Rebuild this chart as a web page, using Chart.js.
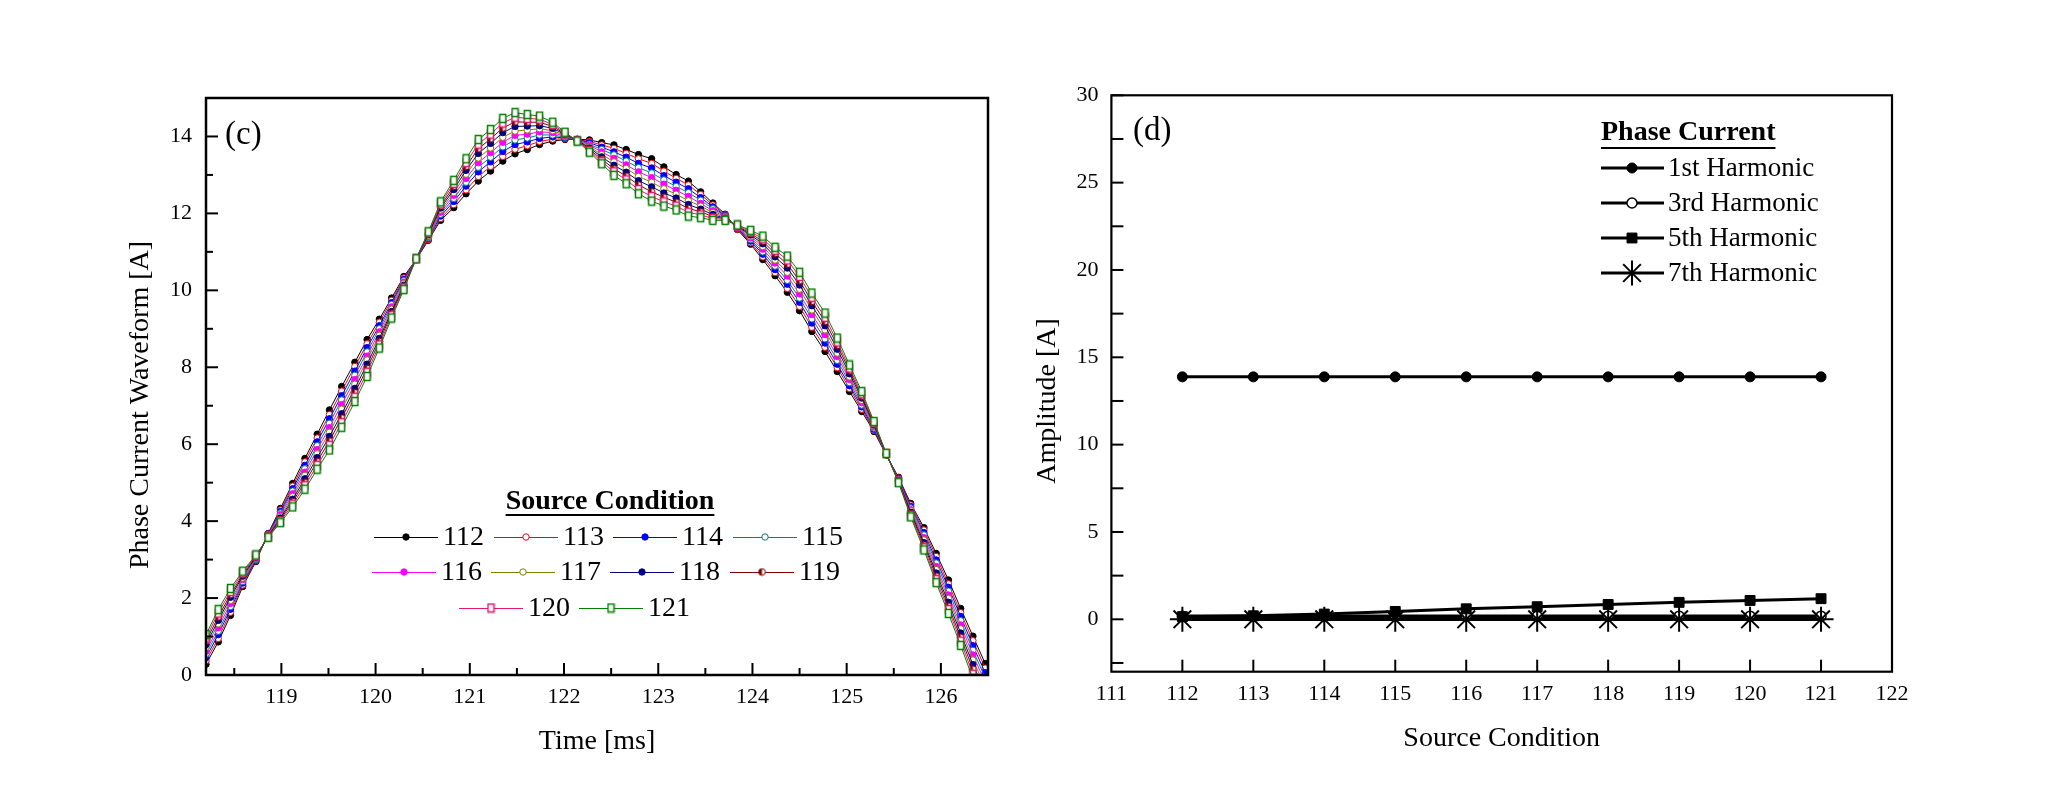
<!DOCTYPE html>
<html>
<head>
<meta charset="utf-8">
<script src="https://cdn.jsdelivr.net/npm/chart.js"></script>
<style>
  html, body { margin: 0; padding: 0; background: #fff; }
  #wrap { position: relative; width: 2053px; height: 810px; overflow: hidden; }
  canvas { position: absolute; top: 0; }
  #waveChart { left: 0; }
  #harmChart { left: 1030px; }
</style>
</head>
<body>
<div id="wrap">
  <canvas id="waveChart" width="1030" height="810"></canvas>
  <canvas id="harmChart" width="1023" height="810"></canvas>
</div>
<script>
// ---- (c) phase current waveform, one curve per source condition ----
const times = [118.20, 118.33, 118.46, 118.59, 118.73, 118.86, 118.99, 119.12, 119.25, 119.38,
  119.51, 119.64, 119.78, 119.91, 120.04, 120.17, 120.30, 120.43, 120.56, 120.69,
  120.83, 120.96, 121.09, 121.22, 121.35, 121.48, 121.61, 121.74, 121.88, 122.01,
  122.14, 122.27, 122.40, 122.53, 122.66, 122.79, 122.93, 123.06, 123.19, 123.32,
  123.45, 123.58, 123.71, 123.84, 123.98, 124.11, 124.24, 124.37, 124.50, 124.63,
  124.77, 124.90, 125.03, 125.16, 125.29, 125.42, 125.55, 125.68, 125.82, 125.95,
  126.08, 126.21, 126.34, 126.47];

const s112 = [0.28, 0.86, 1.55, 2.30, 2.95, 3.68, 4.33, 4.98, 5.63, 6.26,
  6.89, 7.50, 8.13, 8.72, 9.25, 9.80, 10.36, 10.80, 11.30, 11.82,
  12.15, 12.51, 12.84, 13.10, 13.36, 13.55, 13.66, 13.79, 13.88, 13.92,
  13.93, 13.91, 13.84, 13.78, 13.66, 13.53, 13.42, 13.21, 13.01, 12.84,
  12.56, 12.27, 11.98, 11.58, 11.20, 10.80, 10.38, 9.95, 9.47, 8.93,
  8.41, 7.89, 7.37, 6.85, 6.33, 5.72, 5.14, 4.46, 3.83, 3.16,
  2.47, 1.73, 1.01, 0.30];
const s113 = [0.37, 0.95, 1.63, 2.34, 2.97, 3.67, 4.29, 4.91, 5.54, 6.16,
  6.77, 7.38, 8.02, 8.61, 9.17, 9.74, 10.32, 10.80, 11.32, 11.87,
  12.23, 12.61, 12.96, 13.22, 13.48, 13.67, 13.76, 13.87, 13.93, 13.94,
  13.92, 13.87, 13.78, 13.69, 13.56, 13.42, 13.30, 13.10, 12.91, 12.74,
  12.49, 12.22, 11.96, 11.59, 11.24, 10.87, 10.46, 10.05, 9.58, 9.04,
  8.52, 7.99, 7.45, 6.91, 6.36, 5.72, 5.12, 4.42, 3.77, 3.08,
  2.37, 1.62, 0.89, 0.18];
const s114 = [0.45, 1.05, 1.71, 2.39, 2.99, 3.66, 4.25, 4.84, 5.45, 6.06,
  6.66, 7.26, 7.90, 8.51, 9.08, 9.68, 10.28, 10.80, 11.35, 11.93,
  12.31, 12.71, 13.08, 13.34, 13.61, 13.79, 13.86, 13.95, 13.99, 13.96,
  13.92, 13.84, 13.72, 13.60, 13.46, 13.30, 13.18, 12.98, 12.81, 12.64,
  12.41, 12.17, 11.94, 11.61, 11.28, 10.94, 10.54, 10.16, 9.69, 9.15,
  8.63, 8.08, 7.52, 6.97, 6.39, 5.73, 5.11, 4.38, 3.70, 2.99,
  2.28, 1.52, 0.76, 0.06];
const s115 = [0.54, 1.14, 1.78, 2.43, 3.01, 3.65, 4.21, 4.78, 5.36, 5.96,
  6.54, 7.15, 7.79, 8.40, 9.00, 9.63, 10.25, 10.81, 11.37, 11.98,
  12.39, 12.81, 13.20, 13.46, 13.73, 13.91, 13.96, 14.04, 14.04, 13.98,
  13.91, 13.80, 13.66, 13.52, 13.36, 13.19, 13.05, 12.87, 12.70, 12.54,
  12.34, 12.12, 11.93, 11.62, 11.32, 11.00, 10.63, 10.26, 9.80, 9.26,
  8.74, 8.18, 7.60, 7.02, 6.42, 5.73, 5.09, 4.34, 3.64, 2.91,
  2.18, 1.41, 0.64, -0.07];
const s116 = [0.62, 1.23, 1.86, 2.48, 3.03, 3.64, 4.17, 4.71, 5.27, 5.86,
  6.43, 7.03, 7.68, 8.29, 8.92, 9.57, 10.21, 10.81, 11.40, 12.03,
  12.47, 12.91, 13.32, 13.58, 13.85, 14.03, 14.06, 14.12, 14.10, 14.00,
  13.91, 13.77, 13.60, 13.43, 13.26, 13.08, 12.93, 12.76, 12.60, 12.44,
  12.26, 12.07, 11.91, 11.63, 11.36, 11.07, 10.71, 10.37, 9.91, 9.37,
  8.85, 8.28, 7.68, 7.08, 6.45, 5.74, 5.08, 4.30, 3.57, 2.82,
  2.08, 1.30, 0.52, -0.19];
const s117 = [0.71, 1.33, 1.94, 2.52, 3.04, 3.62, 4.12, 4.64, 5.19, 5.75,
  6.31, 6.91, 7.56, 8.19, 8.83, 9.51, 10.17, 10.81, 11.42, 12.09,
  12.54, 13.02, 13.44, 13.70, 13.98, 14.14, 14.17, 14.20, 14.15, 14.03,
  13.90, 13.73, 13.53, 13.34, 13.17, 12.96, 12.81, 12.64, 12.50, 12.33,
  12.19, 12.02, 11.89, 11.65, 11.40, 11.14, 10.79, 10.47, 10.03, 9.49,
  8.97, 8.37, 7.75, 7.14, 6.47, 5.74, 5.06, 4.27, 3.51, 2.74,
  1.99, 1.20, 0.39, -0.31];
const s118 = [0.79, 1.42, 2.02, 2.57, 3.06, 3.61, 4.08, 4.57, 5.10, 5.65,
  6.20, 6.79, 7.45, 8.08, 8.75, 9.45, 10.13, 10.81, 11.45, 12.14,
  12.62, 13.12, 13.56, 13.82, 14.10, 14.26, 14.27, 14.28, 14.21, 14.05,
  13.90, 13.70, 13.47, 13.25, 13.07, 12.85, 12.69, 12.53, 12.40, 12.23,
  12.11, 11.97, 11.87, 11.66, 11.44, 11.21, 10.87, 10.58, 10.14, 9.60,
  9.08, 8.47, 7.83, 7.20, 6.50, 5.75, 5.05, 4.23, 3.44, 2.65,
  1.89, 1.09, 0.27, -0.43];
const s119 = [0.88, 1.51, 2.09, 2.61, 3.08, 3.60, 4.04, 4.51, 5.01, 5.55,
  6.08, 6.68, 7.34, 7.97, 8.67, 9.40, 10.10, 10.82, 11.47, 12.19,
  12.70, 13.22, 13.68, 13.94, 14.22, 14.38, 14.37, 14.37, 14.26, 14.07,
  13.89, 13.66, 13.41, 13.16, 12.97, 12.74, 12.56, 12.42, 12.29, 12.13,
  12.04, 11.92, 11.86, 11.67, 11.48, 11.27, 10.96, 10.68, 10.25, 9.71,
  9.19, 8.57, 7.91, 7.25, 6.53, 5.75, 5.03, 4.19, 3.38, 2.57,
  1.79, 0.98, 0.15, -0.56];
const s120 = [0.96, 1.61, 2.17, 2.66, 3.10, 3.59, 4.00, 4.44, 4.92, 5.45,
  5.97, 6.56, 7.22, 7.87, 8.58, 9.34, 10.06, 10.82, 11.50, 12.25,
  12.78, 13.32, 13.80, 14.06, 14.35, 14.50, 14.47, 14.45, 14.31, 14.09,
  13.89, 13.63, 13.35, 13.08, 12.87, 12.62, 12.44, 12.30, 12.19, 12.03,
  11.96, 11.87, 11.84, 11.69, 11.52, 11.34, 11.04, 10.79, 10.36, 9.82,
  9.30, 8.66, 7.98, 7.31, 6.56, 5.76, 5.02, 4.15, 3.31, 2.48,
  1.70, 0.88, 0.02, -0.68];
const s121 = [1.05, 1.70, 2.25, 2.70, 3.12, 3.58, 3.96, 4.37, 4.83, 5.35,
  5.85, 6.44, 7.11, 7.76, 8.50, 9.28, 10.02, 10.82, 11.52, 12.30,
  12.86, 13.42, 13.92, 14.18, 14.47, 14.62, 14.57, 14.53, 14.37, 14.11,
  13.88, 13.59, 13.29, 12.99, 12.77, 12.51, 12.32, 12.19, 12.09, 11.93,
  11.89, 11.82, 11.82, 11.70, 11.56, 11.41, 11.12, 10.89, 10.47, 9.93,
  9.41, 8.76, 8.06, 7.37, 6.59, 5.76, 5.00, 4.11, 3.25, 2.40,
  1.60, 0.77, -0.10, -0.80];

const sourceLabels = ['112', '113', '114', '115', '116', '117', '118', '119', '120', '121'];
const waveValues = [s112, s113, s114, s115, s116, s117, s118, s119, s120, s121];
const waveXTicks = [119, 120, 121, 122, 123, 124, 125, 126];
const waveXMinor = [118.5, 119.5, 120.5, 121.5, 122.5, 123.5, 124.5, 125.5, 126.5];
const waveYTicks = [0, 2, 4, 6, 8, 10, 12, 14];
const waveYMinor = [1, 3, 5, 7, 9, 11, 13, 15];

// ---- (d) harmonic amplitudes vs source condition ----
const conditions = [112, 113, 114, 115, 116, 117, 118, 119, 120, 121];
const harmonicLabels = ['1st Harmonic', '3rd Harmonic', '5th Harmonic', '7th Harmonic'];
const h1 = [13.88, 13.88, 13.88, 13.88, 13.88, 13.88, 13.88, 13.88, 13.88, 13.88];
const h3 = [0.18, 0.18, 0.18, 0.18, 0.18, 0.18, 0.18, 0.18, 0.18, 0.18];
const h5 = [0.15, 0.20, 0.30, 0.45, 0.60, 0.72, 0.85, 0.97, 1.08, 1.18];
const h7 = [0.00, 0.00, 0.00, 0.00, 0.00, 0.00, 0.00, 0.00, 0.00, 0.00];
const harmXTicks = [111, 112, 113, 114, 115, 116, 117, 118, 119, 120, 121, 122];
const harmYTicks = [0, 5, 10, 15, 20, 25, 30];
const harmYMinor = [-2.5, 2.5, 7.5, 12.5, 17.5, 22.5, 27.5];

const SERIF = "'Liberation Serif', 'Times New Roman', serif";
Chart.defaults.font.family = SERIF;
Chart.defaults.color = '#000';

// small custom markers
function halfDot(color) {
  const c = document.createElement('canvas');
  c.width = 9; c.height = 9;
  const g = c.getContext('2d');
  g.beginPath(); g.arc(4.5, 4.5, 3.3, 0, Math.PI * 2); g.fillStyle = '#fff'; g.fill();
  g.beginPath(); g.moveTo(4.5, 4.5); g.arc(4.5, 4.5, 3.3, -Math.PI / 2, Math.PI / 2, true); g.closePath();
  g.fillStyle = color; g.fill();
  g.beginPath(); g.arc(4.5, 4.5, 3.3, 0, Math.PI * 2); g.strokeStyle = color; g.lineWidth = 1; g.stroke();
  return c;
}
function openBar(color) {
  const c = document.createElement('canvas');
  c.width = 9; c.height = 11;
  const g = c.getContext('2d');
  g.fillStyle = '#fff'; g.fillRect(1.5, 1.5, 6, 8);
  g.strokeStyle = color; g.lineWidth = 1.5; g.strokeRect(1.5, 1.5, 6, 8);
  return c;
}

const waveStyles = [
  { color: '#000000', fill: true },
  { color: '#ff0000', fill: false },
  { color: '#0000ff', fill: true },
  { color: '#008080', fill: false },
  { color: '#ff00ff', fill: true },
  { color: '#808000', fill: false },
  { color: '#000080', fill: true },
  { color: '#800000', img: halfDot('#800000') },
  { color: '#e0186e', img: openBar('#e0186e') },
  { color: '#008000', img: openBar('#008000') }
];

function drawMarker(ctx, ds, x, y) {
  const st = ds.pointStyle;
  if (st instanceof HTMLCanvasElement) {
    ctx.drawImage(st, x - st.width / 2, y - st.height / 2);
    return;
  }
  const r = ds.pointRadius;
  ctx.save();
  ctx.fillStyle = ds.pointBackgroundColor;
  ctx.strokeStyle = ds.pointBorderColor;
  ctx.lineWidth = ds.pointBorderWidth;
  ctx.beginPath();
  if (st === 'rect') {
    const s = r * Math.SQRT1_2;
    ctx.rect(x - s, y - s, 2 * s, 2 * s);
    ctx.fill(); ctx.stroke();
  } else if (st === 'star') {
    for (let a = 0; a < 4; a++) {
      const ang = a * Math.PI / 4;
      ctx.moveTo(x - Math.cos(ang) * r, y - Math.sin(ang) * r);
      ctx.lineTo(x + Math.cos(ang) * r, y + Math.sin(ang) * r);
    }
    ctx.stroke();
  } else {
    ctx.arc(x, y, r, 0, Math.PI * 2);
    ctx.fill(); ctx.stroke();
  }
  ctx.restore();
}

// box frame, inward ticks, rotated y title and panel letter
const framePlugin = {
  id: 'frame',
  afterDatasetsDraw(chart, args, o) {
    const { ctx, chartArea: a, scales } = chart;
    const xs = scales.x, ys = scales.y;
    ctx.save();
    ctx.strokeStyle = '#000';
    ctx.lineWidth = o.tickWidth;
    const tickX = (vals, len) => vals.forEach(v => {
      const p = xs.getPixelForValue(v);
      ctx.beginPath(); ctx.moveTo(p, a.bottom); ctx.lineTo(p, a.bottom - len); ctx.stroke();
    });
    const tickY = (vals, len) => vals.forEach(v => {
      const p = ys.getPixelForValue(v);
      ctx.beginPath(); ctx.moveTo(a.left, p); ctx.lineTo(a.left + len, p); ctx.stroke();
    });
    tickX(o.xMajor, o.majorLen); tickX(o.xMinor, o.minorLen);
    tickY(o.yMajor, o.majorLen); tickY(o.yMinor, o.minorLen);
    ctx.lineWidth = o.lineWidth;
    ctx.strokeRect(a.left, a.top, a.right - a.left, a.bottom - a.top);

    ctx.fillStyle = '#000';
    ctx.font = '28px ' + SERIF;
    ctx.textAlign = 'center';
    ctx.textBaseline = 'middle';
    ctx.translate(o.yTitle.x, o.yTitle.y);
    ctx.rotate(-Math.PI / 2);
    ctx.fillText(o.yTitle.text, 0, 0);
    ctx.setTransform(1, 0, 0, 1, 0, 0);
    ctx.font = '33px ' + SERIF;
    ctx.textAlign = 'left';
    ctx.fillText(o.panel.text, o.panel.x, o.panel.y);
    ctx.restore();
  }
};

const waveLegendSlots = [[374, 537], [494, 537], [613, 537], [733, 537],
  [372, 572], [491, 572], [610, 572], [730, 572], [459, 608], [579, 608]];

const waveLegend = {
  id: 'waveLegend',
  afterDraw(chart) {
    const ctx = chart.ctx;
    ctx.save();
    ctx.fillStyle = '#000';
    ctx.font = 'bold 28px ' + SERIF;
    ctx.textAlign = 'center';
    ctx.textBaseline = 'middle';
    ctx.fillText('Source Condition', 610, 502);
    const w = ctx.measureText('Source Condition').width;
    ctx.fillRect(610 - w / 2, 514, w, 2);
    ctx.font = '28px ' + SERIF;
    ctx.textAlign = 'left';
    chart.data.datasets.forEach((ds, i) => {
      const [x, y] = waveLegendSlots[i];
      ctx.strokeStyle = ds.borderColor;
      ctx.lineWidth = 1;
      ctx.beginPath(); ctx.moveTo(x, y + 0.5); ctx.lineTo(x + 64, y + 0.5); ctx.stroke();
      drawMarker(ctx, ds, x + 32, y);
      ctx.fillStyle = '#000';
      ctx.fillText(ds.label, x + 69, y + 1);
    });
    ctx.restore();
  }
};

const harmLegend = {
  id: 'harmLegend',
  afterDraw(chart) {
    const ctx = chart.ctx;
    const x0 = 571, rows = [168, 203, 238, 273];
    ctx.save();
    ctx.fillStyle = '#000';
    ctx.font = 'bold 28px ' + SERIF;
    ctx.textAlign = 'left';
    ctx.textBaseline = 'middle';
    ctx.fillText('Phase Current', x0, 133);
    const w = ctx.measureText('Phase Current').width;
    ctx.fillRect(x0, 147, w, 2);
    ctx.font = '27px ' + SERIF;
    chart.data.datasets.forEach((ds, i) => {
      const y = rows[i];
      ctx.strokeStyle = '#000';
      ctx.lineWidth = 3;
      ctx.beginPath(); ctx.moveTo(x0, y); ctx.lineTo(x0 + 63, y); ctx.stroke();
      drawMarker(ctx, ds, x0 + 31, y);
      ctx.fillStyle = '#000';
      ctx.fillText(ds.label, x0 + 67, y + 1);
    });
    ctx.restore();
  }
};

function fixedTicks(list) {
  return scale => { scale.ticks = list.map(v => ({ value: v })); };
}

// ---- chart (c) ----
new Chart(document.getElementById('waveChart'), {
  type: 'line',
  data: {
    datasets: waveValues.map((vals, i) => {
      const st = waveStyles[i];
      return {
        label: sourceLabels[i],
        data: times.map((t, k) => ({ x: t, y: vals[k] })),
        borderColor: st.color,
        borderWidth: 1,
        tension: 0,
        pointStyle: st.img || 'circle',
        pointRadius: 3.2,
        pointBorderWidth: 1,
        pointBorderColor: st.color,
        pointBackgroundColor: st.fill ? st.color : '#ffffff',
        order: 9 - i
      };
    })
  },
  options: {
    responsive: false,
    devicePixelRatio: 1,
    animation: false,
    events: [],
    layout: { padding: { top: 98, right: 42, bottom: 51.5, left: 0 } },
    plugins: {
      legend: { display: false },
      tooltip: { enabled: false },
      frame: {
        lineWidth: 2.5, tickWidth: 2, majorLen: 12, minorLen: 7,
        xMajor: waveXTicks, xMinor: waveXMinor, yMajor: waveYTicks, yMinor: waveYMinor,
        yTitle: { text: 'Phase Current Waveform [A]', x: 141, y: 405 },
        panel: { text: '(c)', x: 225, y: 135 }
      }
    },
    scales: {
      x: {
        type: 'linear', min: 118.2, max: 126.5,
        afterBuildTicks: fixedTicks(waveXTicks),
        afterFit: s => { s.height = 83.5; },
        grid: { display: false, drawTicks: false },
        border: { display: false },
        ticks: { padding: 9, font: { size: 22 }, maxRotation: 0 },
        title: { display: true, text: 'Time [ms]', font: { size: 28 }, padding: 0 }
      },
      y: {
        type: 'linear', min: 0, max: 15,
        afterBuildTicks: fixedTicks(waveYTicks),
        afterFit: s => { s.width = 206; },
        grid: { display: false, drawTicks: false },
        border: { display: false },
        ticks: { padding: 14, font: { size: 22 } }
      }
    }
  },
  plugins: [framePlugin, waveLegend]
});

// ---- chart (d) ----
const harmStyles = [
  { pointStyle: 'circle', pointRadius: 5, pointBackgroundColor: '#000', pointBorderWidth: 1, borderWidth: 3 },
  { pointStyle: 'circle', pointRadius: 5, pointBackgroundColor: '#fff', pointBorderWidth: 1.5, borderWidth: 3.5 },
  { pointStyle: 'rect', pointRadius: 7, pointBackgroundColor: '#000', pointBorderWidth: 1, borderWidth: 3 },
  { pointStyle: 'star', pointRadius: 12.5, pointBackgroundColor: '#000', pointBorderWidth: 2, borderWidth: 3.5 }
];
new Chart(document.getElementById('harmChart'), {
  type: 'line',
  data: {
    datasets: [h1, h3, h5, h7].map((vals, i) => Object.assign({
      label: harmonicLabels[i],
      data: conditions.map((c, k) => ({ x: c, y: vals[k] })),
      borderColor: '#000',
      tension: 0,
      pointBorderColor: '#000',
      order: 3 - i
    }, harmStyles[i]))
  },
  options: {
    responsive: false,
    devicePixelRatio: 1,
    animation: false,
    events: [],
    layout: { padding: { top: 95.3, right: 161, bottom: 54.9, left: 0 } },
    plugins: {
      legend: { display: false },
      tooltip: { enabled: false },
      frame: {
        lineWidth: 2.2, tickWidth: 2, majorLen: 12, minorLen: 12,
        xMajor: conditions, xMinor: [], yMajor: harmYTicks, yMinor: harmYMinor,
        yTitle: { text: 'Amplitude [A]', x: 18, y: 401 },
        panel: { text: '(d)', x: 103, y: 131 }
      }
    },
    scales: {
      x: {
        type: 'linear', min: 111, max: 122,
        afterBuildTicks: fixedTicks(harmXTicks),
        afterFit: s => { s.height = 83.4; },
        grid: { display: false, drawTicks: false },
        border: { display: false },
        ticks: { padding: 9, font: { size: 22 }, maxRotation: 0 },
        title: { display: true, text: 'Source Condition', font: { size: 28 }, padding: 0 }
      },
      y: {
        type: 'linear', min: -3, max: 30,
        afterBuildTicks: fixedTicks(harmYTicks),
        afterFit: s => { s.width = 81.4; },
        grid: { display: false, drawTicks: false },
        border: { display: false },
        ticks: { padding: 13, font: { size: 22 } }
      }
    }
  },
  plugins: [framePlugin, harmLegend]
});
</script>
</body>
</html>
